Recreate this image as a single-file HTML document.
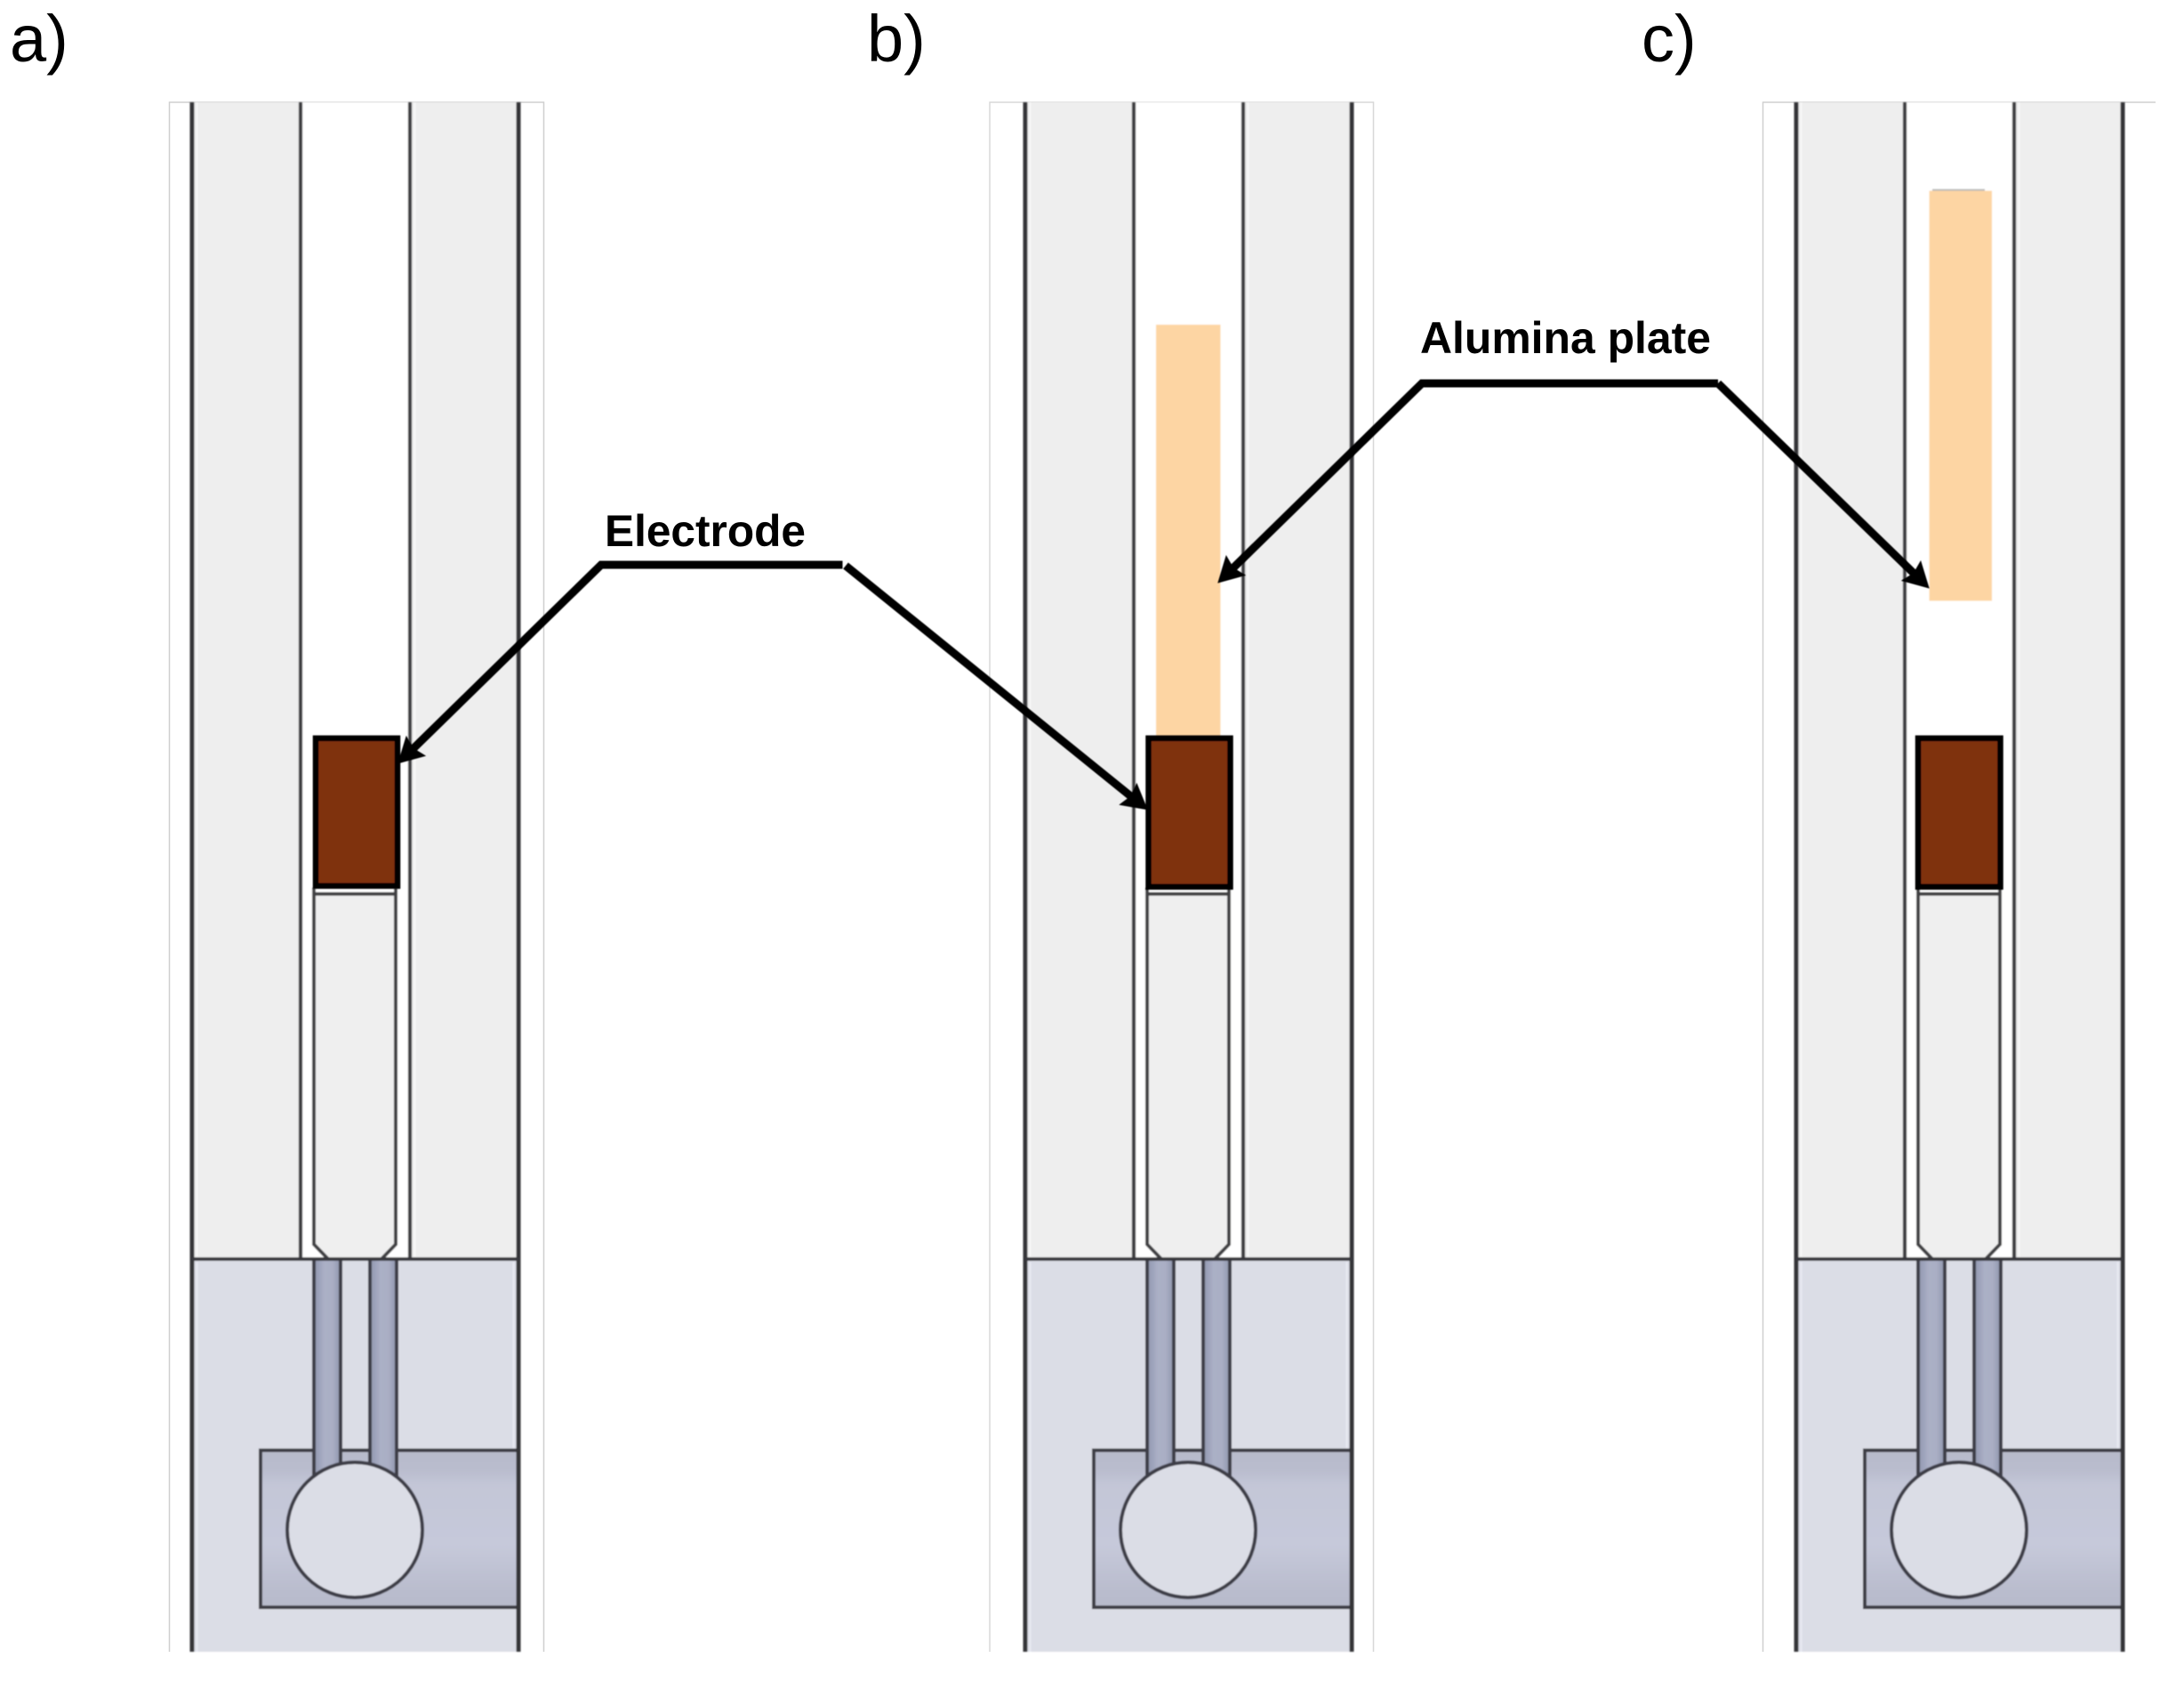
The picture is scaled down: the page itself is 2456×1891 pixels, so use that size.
<!DOCTYPE html>
<html>
<head>
<meta charset="utf-8">
<style>
html,body{margin:0;padding:0;background:#fff;width:2456px;height:1891px;overflow:hidden}
svg{display:block}
</style>
</head>
<body>
<svg xmlns="http://www.w3.org/2000/svg" width="2456" height="1891" viewBox="0 0 2456 1891">
<defs>
  <linearGradient id="tube" x1="0" x2="1" y1="0" y2="0">
    <stop offset="0" stop-color="#9096ae"/><stop offset=".4" stop-color="#abb0c6"/><stop offset=".7" stop-color="#a9aec4"/><stop offset="1" stop-color="#8f95ad"/>
  </linearGradient>
  <linearGradient id="box" x1="0" x2="0" y1="0" y2="1">
    <stop offset="0" stop-color="#b7bacb"/><stop offset=".12" stop-color="#b9bccd"/><stop offset=".22" stop-color="#c3c6d7"/><stop offset=".6" stop-color="#c6c9da"/><stop offset=".9" stop-color="#b9bccd"/><stop offset="1" stop-color="#b7bacb"/>
  </linearGradient>
  <filter id="soft" x="-2%" y="-2%" width="104%" height="104%"><feGaussianBlur stdDeviation="0.8"/></filter>
  <filter id="soft2" x="-5%" y="-5%" width="110%" height="110%"><feGaussianBlur stdDeviation="0.5"/></filter>
  <marker id="ah" markerUnits="userSpaceOnUse" markerWidth="34" markerHeight="34" refX="12" refY="16" orient="auto">
    <path d="M0 0 L29 16 L0 32 L4 16 Z" fill="#000"/>
  </marker>
  <g id="panel">
    <!-- gray walls -->
    <rect x="0" y="115" width="122" height="1300" fill="#eeeeee"/>
    <rect x="245" y="115" width="122" height="1300" fill="#eeeeee"/>
    <rect x="122" y="115" width="123" height="1300" fill="#ffffff"/>
    <!-- rod -->
    <path d="M137 1005 H229 V1399 L213 1415.5 H153 L137 1399 Z" fill="#efefef"/>
    <path d="M137 998 V1399 L153 1415.5 M229 998 V1399 L213 1415.5 M137 1005 H229" fill="none" stroke="#3f3f43" stroke-width="4"/>
    <!-- lower block -->
    <rect x="0" y="1415.5" width="367" height="441.5" fill="#dbdde6"/>
    <rect x="77" y="1630.5" width="290" height="176.5" fill="url(#box)" stroke="#3d3e45" stroke-width="4"/>
    <!-- tubes -->
    <rect x="137" y="1415.5" width="30" height="250" fill="url(#tube)"/>
    <rect x="200" y="1415.5" width="30" height="250" fill="url(#tube)"/>
    <path d="M137 1415.5 V1665 M167 1415.5 V1650 M200 1415.5 V1650 M230 1415.5 V1665" fill="none" stroke="#3d3e47" stroke-width="4"/>
    <!-- circle -->
    <circle cx="183" cy="1720" r="76" fill="#dbdde6" stroke="#3d3e47" stroke-width="4"/>
    <!-- main lines -->
    <path d="M0 115 V1857 M367 115 V1857" fill="none" stroke="#363639" stroke-width="5"/>
    <path d="M122 115 V1415.5 M245 115 V1415.5" fill="none" stroke="#3c3c40" stroke-width="4.2"/>
    <path d="M0 1415.5 H367" fill="none" stroke="#38383e" stroke-width="4"/>
    <!-- highlights -->
    <path d="M5.5 115 V1413 M250.5 115 V1413" stroke="#f8f8f8" stroke-width="2" fill="none"/>
    <path d="M5.5 1419 V1857 M361.5 1419 V1628" stroke="#e8e9f2" stroke-width="2" fill="none"/>
  </g>
</defs>

<!-- outer faint frames -->
<g fill="none">
  <path d="M190.5 1857 V115 H611.5 V1857" stroke="#cfcfcf" stroke-width="1.5"/>
  <path d="M1113 1857 V115 H1544.5 V1857" stroke="#d8d8d8" stroke-width="1.5"/>
  <path d="M1982.5 1857 V115 H2424" stroke="#cfcfcf" stroke-width="1.5"/>
</g>

<g filter="url(#soft)">
  <use href="#panel" x="216" y="0"/>
  <use href="#panel" x="1153" y="0"/>
  <use href="#panel" x="2020" y="0"/>

  <!-- alumina plates -->
  <rect x="1300" y="365" width="72.5" height="465" fill="#fdd5a3"/>
  <rect x="2173" y="212.5" width="59" height="2" fill="#b9b9b9"/>
  <rect x="2169.5" y="214.5" width="70.5" height="461" fill="#fdd5a3"/>
</g>

<g filter="url(#soft2)">
  <!-- electrodes -->
  <rect x="355" y="830" width="92" height="166" fill="#7f3310" stroke="#000" stroke-width="6.5"/>
  <rect x="1291.5" y="830" width="92" height="167" fill="#7f3310" stroke="#000" stroke-width="6.5"/>
  <rect x="2157" y="830" width="92.5" height="167" fill="#7f3310" stroke="#000" stroke-width="6.5"/>

  <!-- leaders -->
  <g fill="none" stroke="#000" stroke-width="9">
    <path d="M947.5 635 H676 L459.4 846.8" marker-end="url(#ah)"/>
    <path d="M951 636 L1277.6 900" marker-end="url(#ah)"/>
    <path d="M1932 431 H1599 L1381.4 643.8" marker-end="url(#ah)"/>
    <path d="M1932 431 L2157.5 649.8" marker-end="url(#ah)"/>
  </g>
</g>

<!-- labels -->
<g font-family="'Liberation Sans',sans-serif" fill="#000">
  <text x="680" y="614" font-size="50" font-weight="700" textLength="226" lengthAdjust="spacingAndGlyphs">Electrode</text>
  <text x="1597" y="397" font-size="50" font-weight="700" textLength="327" lengthAdjust="spacingAndGlyphs">Alumina plate</text>
  <text x="11" y="69" font-size="74">a)</text>
  <text x="975" y="69" font-size="74">b)</text>
  <text x="1846" y="69" font-size="74">c)</text>
</g>
</svg>
</body>
</html>
